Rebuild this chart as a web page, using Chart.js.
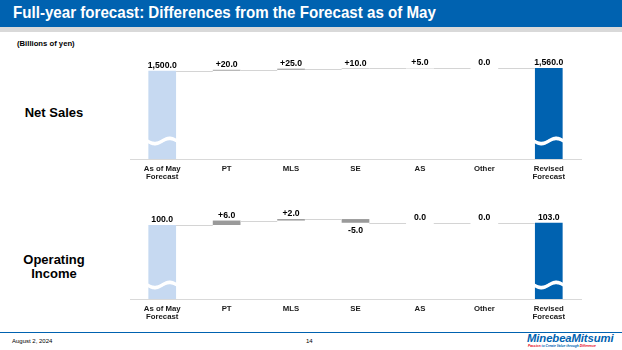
<!DOCTYPE html>
<html>
<head>
<meta charset="utf-8">
<script src="https://cdn.jsdelivr.net/npm/chart.js@4/dist/chart.umd.min.js"></script>
<style>
  html, body { margin:0; padding:0; background:#fff; }
  body { width:622px; height:350px; position:relative; overflow:hidden; font-family:"Liberation Sans", Arial, sans-serif; }
  .abs { position:absolute; white-space:nowrap; }
  #hdr { left:0; top:0; width:622px; height:27px; background:#0062b0; }
  #hdr2 { left:0; top:27px; width:622px; height:5px; background:#d9d9d9; }
  #title { left:13px; top:3px; font-size:17px; line-height:20px; font-weight:bold; color:#fff; transform:scaleX(0.89); transform-origin:left top; }
  #unit { left:17px; top:39px; font-size:7.7px; line-height:10px; font-weight:bold; color:#000; }
  .side { font-size:13px; line-height:14px; font-weight:bold; color:#000; text-align:center; width:80px; left:14px; }
  #foot { left:0; top:331.5px; width:622px; height:1.3px; background:#0062b0; }
  #date { left:12px; top:337px; font-size:6px; line-height:8px; color:#000; }
  #page { left:306px; top:337px; font-size:6px; line-height:8px; color:#000; }
  #logo { left:527px; top:332px; font-size:11.3px; line-height:12px; font-weight:bold; font-style:italic; color:#0062b0; letter-spacing:-0.1px; }
  #slogan { left:528px; top:343.5px; font-size:3.3px; line-height:4px; font-weight:bold; font-style:italic; color:#e60012; }
  canvas { position:absolute; left:0; }
</style>
</head>
<body>
<div class="abs" id="hdr"></div>
<div class="abs" id="hdr2"></div>
<div class="abs" id="title">Full-year forecast: Differences from the Forecast as of May</div>
<div class="abs" id="unit">(Billions of yen)</div>
<div class="abs side" style="top:106px;">Net Sales</div>
<div class="abs side" style="top:253px;">Operating<br>Income</div>
<canvas id="c1" width="622" height="155" style="top:40px;"></canvas>
<canvas id="c2" width="622" height="135" style="top:195px;"></canvas>
<div class="abs" id="foot"></div>
<div class="abs" id="date">August 2, 2024</div>
<div class="abs" id="page">14</div>
<div class="abs" id="logo">MinebeaMitsumi</div>
<div class="abs" id="slogan">Passion <span style="color:#0062b0">to Create Value through</span> Difference</div>
<script>
// ---- data ----
const categories = [['As of May', 'Forecast'], 'PT', 'MLS', 'SE', 'AS', 'Other', ['Revised', 'Forecast']];
const salesStart = 1500.0;
const salesDeltas = [20.0, 25.0, 10.0, 5.0, 0.0];
const salesEnd = 1560.0;
const incomeStart = 100.0;
const incomeDeltas = [6.0, 2.0, -5.0, 0.0, 0.0];
const incomeEnd = 103.0;
// broken-axis display ranges (axis scale, not marks)
const salesAxis = [-462, 1960];
const incomeAxis = [0, 127];

const FONT = '"Liberation Sans", Arial, sans-serif';
const C_START = '#c6d9f1', C_DELTA = '#9a9a9a', C_END = '#0062b0';

function fmtTotal(v) { return v.toLocaleString('en-US', {minimumFractionDigits:1, maximumFractionDigits:1}); }
function fmtDelta(v) { const s = Math.abs(v).toFixed(1); return v > 0 ? '+' + s : (v < 0 ? '-' + s : s); }

function build(start, deltas, end, base) {
  const data = [[base, start]];
  const labels = [fmtTotal(start)];
  const neg = [false];
  let cum = start;
  deltas.forEach(d => { data.push([cum, cum + d]); cum += d; labels.push(fmtDelta(d)); neg.push(d < 0); });
  data.push([base, end]);
  labels.push(fmtTotal(end));
  neg.push(false);
  const colors = data.map((_, i) => i === 0 ? C_START : (i === data.length - 1 ? C_END : C_DELTA));
  return {data, labels, neg, colors};
}

const decor = {
  id: 'decor',
  afterDatasetsDraw(chart) {
    const o = chart.options.plugins.decor;
    const meta = chart.getDatasetMeta(0);
    const ds = chart.data.datasets[0];
    const ys = chart.scales.y;
    const ctx = chart.ctx;
    const els = meta.data;
    ctx.save();
    // connectors
    ctx.strokeStyle = '#d4d4d4';
    ctx.lineWidth = 1;
    for (let i = 0; i < els.length - 1; i++) {
      const a = els[i], b = els[i + 1];
      const lvl = ds.data[i][1];
      const y = Math.round(ys.getPixelForValue(lvl)) + 0.5;
      ctx.beginPath();
      ctx.moveTo(a.x + a.width / 2, y);
      ctx.lineTo(b.x - b.width / 2, y);
      ctx.stroke();
    }
    // wave breaks
    [0, els.length - 1].forEach(i => {
      const e = els[i];
      const bottom = Math.max(e.y, e.base);
      const yc = bottom - o.waveOffset;
      const x0 = e.x - e.width / 2 - 1, x1 = e.x + e.width / 2 + 1;
      const A = 2.6, h = 1.9;
      ctx.beginPath();
      for (let k = 0; k <= 40; k++) {
        const t = k / 40, x = x0 + (x1 - x0) * t;
        const y = yc - h + A * Math.sin(2 * Math.PI * t);
        k === 0 ? ctx.moveTo(x, y) : ctx.lineTo(x, y);
      }
      for (let k = 40; k >= 0; k--) {
        const t = k / 40, x = x0 + (x1 - x0) * t;
        const y = yc + h + A * Math.sin(2 * Math.PI * t);
        ctx.lineTo(x, y);
      }
      ctx.closePath();
      ctx.fillStyle = '#fff';
      ctx.fill();
    });
    // value labels
    ctx.font = 'bold 8.7px ' + FONT;
    ctx.fillStyle = '#000';
    ctx.textAlign = 'center';
    els.forEach((e, i) => {
      const top = Math.min(e.y, e.base), bot = Math.max(e.y, e.base);
      if (o.neg[i]) {
        ctx.textBaseline = 'top';
        ctx.fillText(o.labels[i], e.x, bot + 3);
      } else {
        ctx.textBaseline = 'alphabetic';
        ctx.fillText(o.labels[i], e.x, top - 2.6);
      }
    });
    ctx.restore();
  }
};

function makeChart(id, built, axis, axisH, waveOffset) {
  return new Chart(document.getElementById(id), {
    type: 'bar',
    data: {
      labels: categories,
      datasets: [{
        data: built.data,
        backgroundColor: built.colors,
        borderWidth: 0,
        barPercentage: 0.43,
        categoryPercentage: 1.0
      }]
    },
    options: {
      responsive: false,
      animation: false,
      devicePixelRatio: 1,
      layout: { padding: { left: 130, right: 41, top: 10, bottom: 0 } },
      plugins: {
        legend: { display: false },
        tooltip: { enabled: false },
        decor: { labels: built.labels, neg: built.neg, waveOffset: waveOffset }
      },
      scales: {
        x: {
          grid: { display: false, drawTicks: false },
          border: { display: true, color: '#d9d9d9', width: 1 },
          ticks: { color: '#1a1a1a', padding: 5, maxRotation: 0, autoSkip: false,
                   font: { family: FONT, size: 7.8, weight: 'bold', lineHeight: 1.12 } },
          afterFit: s => { s.height = axisH; }
        },
        y: { display: false, min: axis[0], max: axis[1] }
      }
    },
    plugins: [decor]
  });
}

makeChart('c1', build(salesStart, salesDeltas, salesEnd, salesAxis[0]), salesAxis, 36, 18);
makeChart('c2', build(incomeStart, incomeDeltas, incomeEnd, incomeAxis[0]), incomeAxis, 31, 14);
</script>
</body>
</html>
